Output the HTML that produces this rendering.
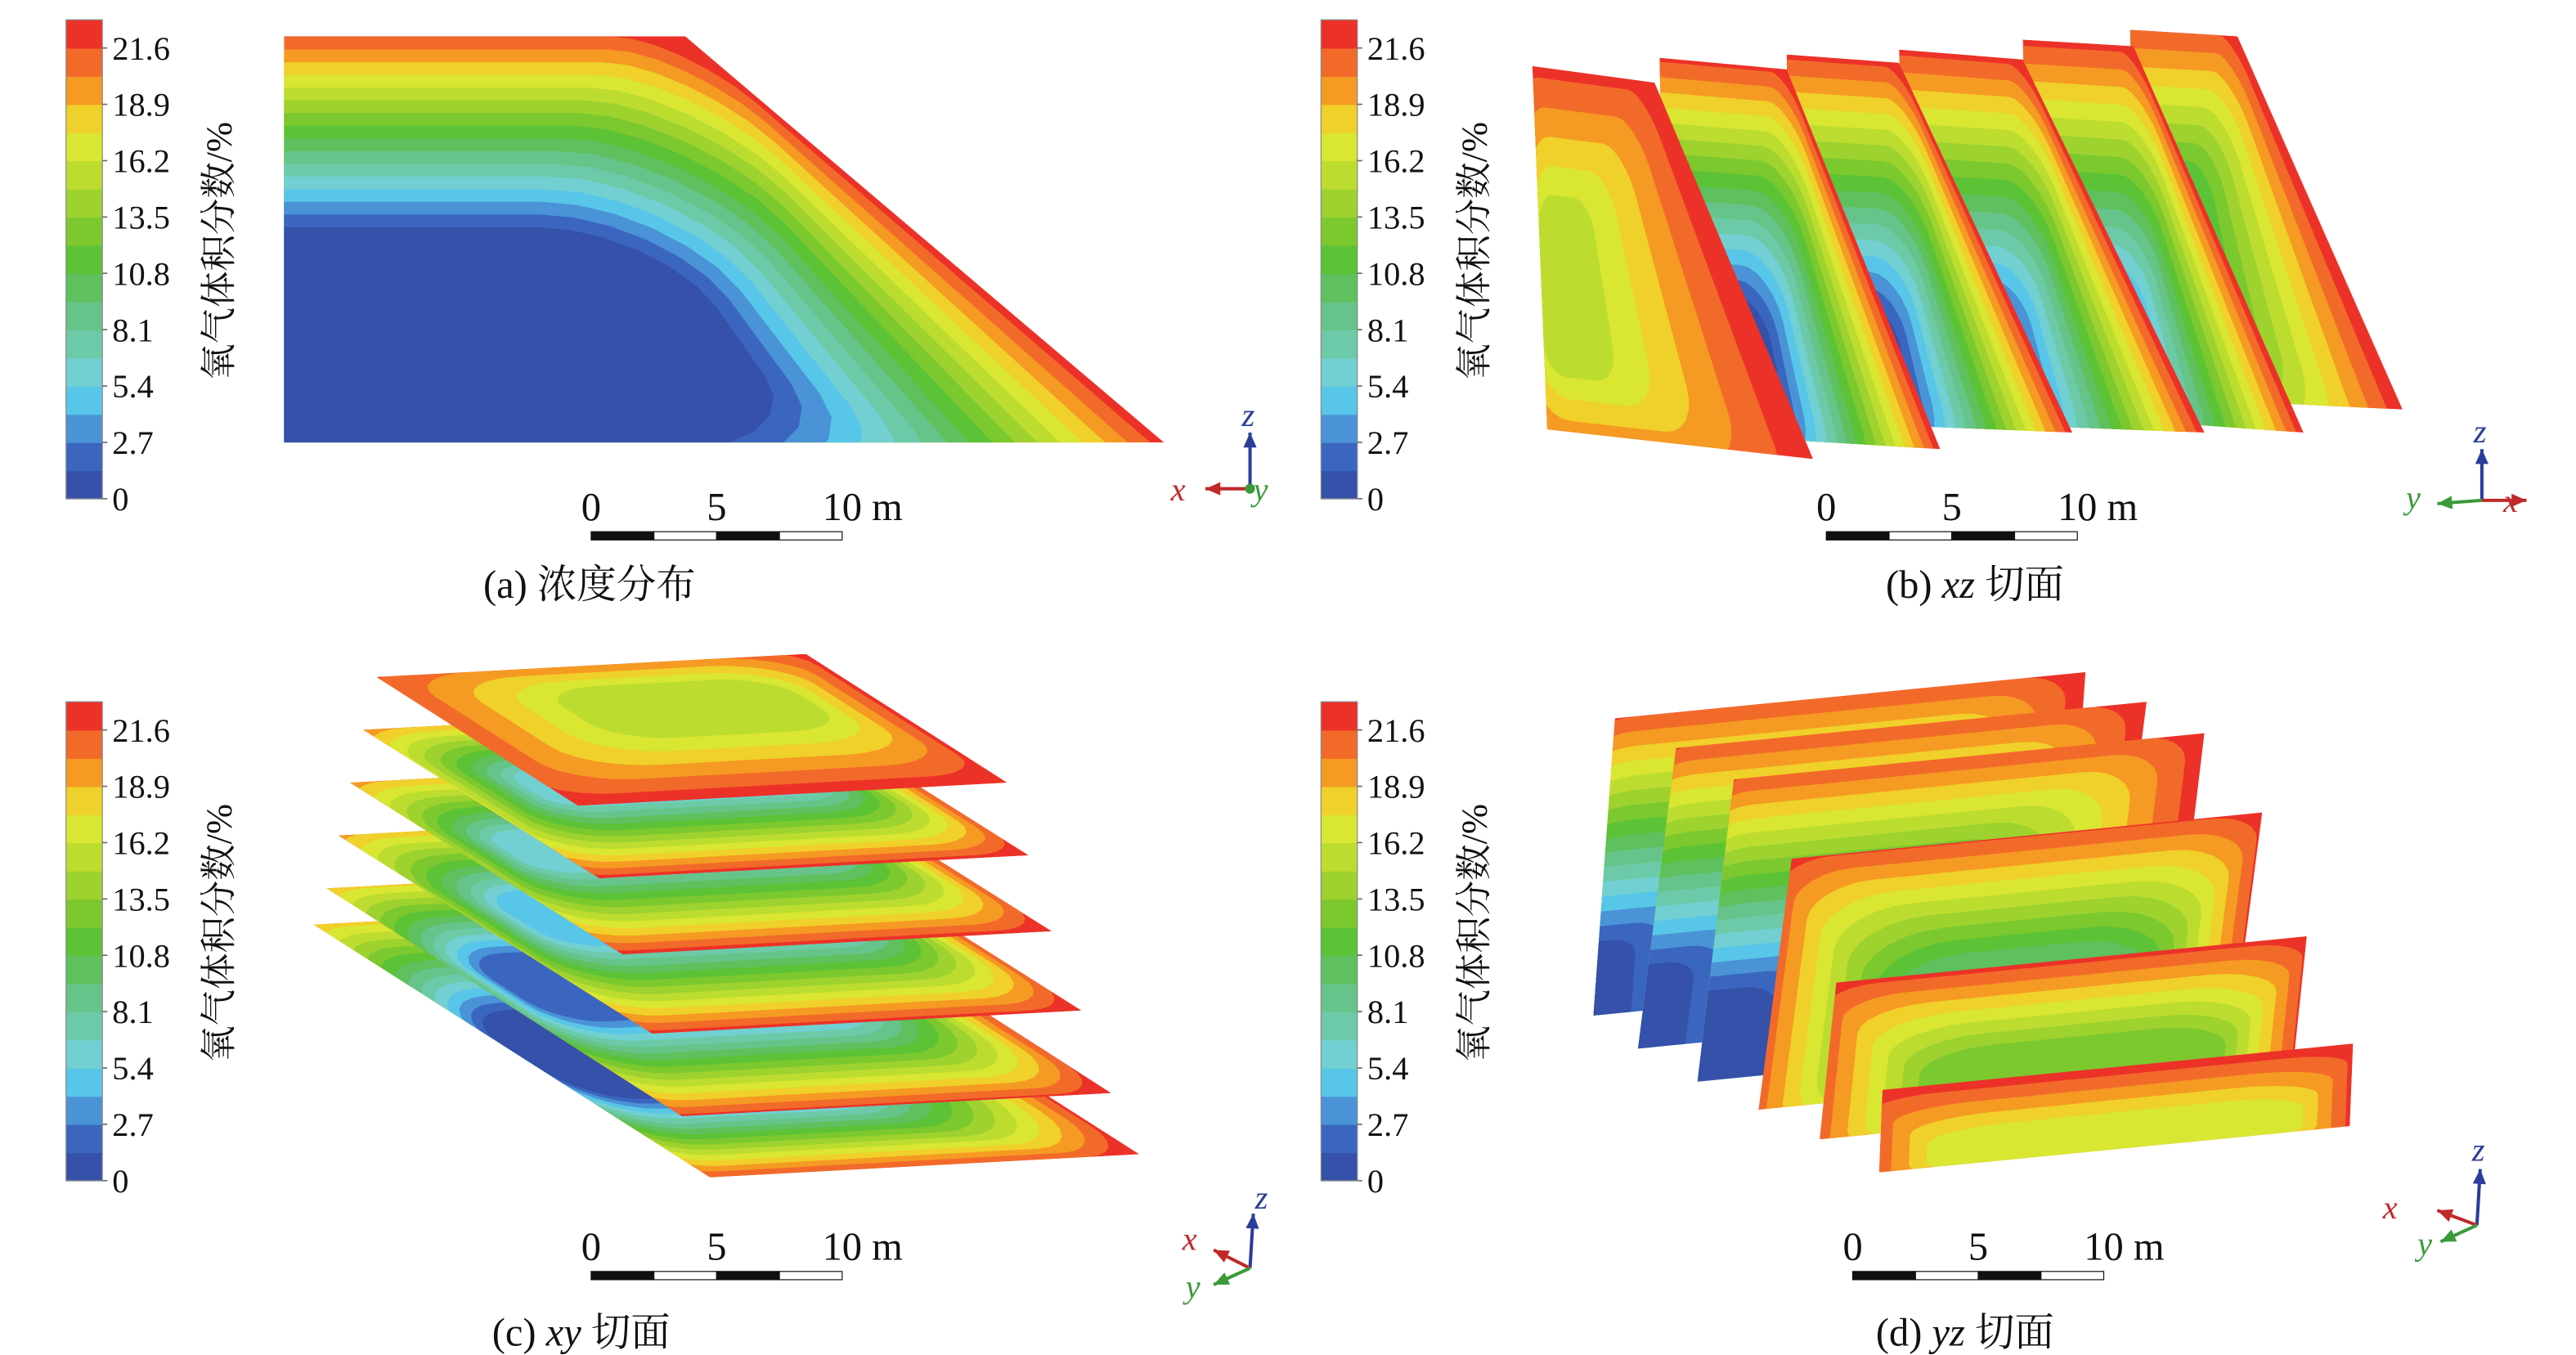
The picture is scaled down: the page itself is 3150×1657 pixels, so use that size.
<!DOCTYPE html>
<html><head><meta charset="utf-8"><style>
html,body{margin:0;padding:0;background:#fff;}
svg{display:block;}
text{font-family:"Liberation Serif","Noto Serif CJK SC",serif;fill:#111;}
</style></head><body>
<svg id="fig" width="3150" height="1657" viewBox="0 0 1560 820.6" preserveAspectRatio="none" xmlns="http://www.w3.org/2000/svg">
<defs></defs>
<g id="root"></g>
</svg>
<script>
const palette=["#3551a9","#3a66bf","#4a93d6","#58c6e8","#72d0d2","#6ccaa8","#66c48a","#5fc05e","#5cc236","#7cc82f","#9dd22f","#bcdd30","#d9e632","#f0d02a","#f59a22","#f26a2a","#ec3228"];
const tickLabels=["0","2.7","5.4","8.1","10.8","13.5","16.2","18.9","21.6"];
const tickValues=[0,2.7,5.4,8.1,10.8,13.5,16.2,18.9,21.6];
const vmax=22.95;
const colorbarOrigins=[[40,12],[800,12],[40,425],[800,425]];
const NS="http://www.w3.org/2000/svg";
const root=document.getElementById('root');
const defs=document.querySelector('defs');
function el(tag,attrs,parent){const e=document.createElementNS(NS,tag);for(const k in attrs)e.setAttribute(k,attrs[k]);(parent||root).appendChild(e);return e;}

colorbarOrigins.forEach((o,ci)=>{
  const g=el('g',{});
  
  
  const x=o[0],top=o[1],bot=o[1]+290,h=(bot-top)/palette.length;
  palette.forEach((c,i)=>{
    const r=el('rect',{x:x,y:bot-(i+1)*h,width:22,height:h+0.4,fill:c},g);
    
    
  });
  el('rect',{x:x,y:top,width:22,height:290,fill:'none',stroke:'#888','stroke-width':0.6},g);
  tickValues.forEach((v,i)=>{
    const y=bot-v/vmax*(bot-top);
    el('line',{x1:x+22,x2:x+25,y1:y,y2:y,stroke:'#666','stroke-width':0.8},g);
    const t=el('text',{x:x+28,y:y+7,'font-size':20},g);
    t.textContent=tickLabels[i];
    
    
  });
  const tt=el('text',{x:0,y:0,'font-size':22,transform:`translate(${x+100},${top+140}) rotate(-90)`,'text-anchor':'middle'},g);
  tt.textContent='氧气体积分数/%';
  
  
});

function bil(q,u,v){const [A,B,C,D]=q;
  const tx=A[0]+(B[0]-A[0])*u, ty=A[1]+(B[1]-A[1])*u;
  const bx=D[0]+(C[0]-D[0])*u, by=D[1]+(C[1]-D[1])*u;
  return [tx+(bx-tx)*v, ty+(by-ty)*v];}
function roundBox(b,rf,t){const [x0,y0,x1,y1]=b;const r=Math.max(0.001,rf*(0.25+0.75*t)*Math.min(x1-x0,y1-y0));const pts=[];
  const corners=[[x1-r,y0+r,-Math.PI/2],[x1-r,y1-r,0],[x0+r,y1-r,Math.PI/2],[x0+r,y0+r,Math.PI]];
  corners.forEach(c=>{for(let k=0;k<=6;k++){const a=c[2]+k/6*Math.PI/2;pts.push([c[0]+r*Math.cos(a),c[1]+r*Math.sin(a)]);}});
  return pts;}
let clipId=0;
function slab(name,q,start,core,outer,inner,rf){
  const g=el('g',{});
  
  
  const id='clip'+(clipId++);
  const cp=el('clipPath',{id:id},defs);
  const poly=q.map(p=>p.join(',')).join(' ');
  el('polygon',{points:poly},cp);
  const gg=el('g',{'clip-path':`url(#${id})`},g);
  el('polygon',{points:poly,fill:palette[outer]},gg);
  const n=outer-inner;
  for(let i=1;i<=n;i++){
    const t=i/n;
    const b=start.map((s,k)=>s+(core[k]-s)*t);
    const pts=roundBox(b,rf,t).map(p=>bil(q,p[0],p[1]));
    const p=el('polygon',{points:pts.map(p=>p[0].toFixed(1)+','+p[1].toFixed(1)).join(' '),fill:palette[outer-i]},gg);
    
    
  }
  return g;
}

slab('contour-panel-a',[[172,22],[415,22],[705,268],[172,268]],[-0.6,-0.03,1.01,1.6],[-0.6,0.47,0.6,1.03],16,0,0.35);

slab('xz-slice-6',[[1290,18],[1355,22],[1455,248],[1295,240]],[-0.2,-0.05,1.01,1.3],[0.1,0.35,0.45,0.9],16,8,0.3);
slab('xz-slice-5',[[1225,24],[1292,28],[1395,262],[1230,250]],[-0.5,-0.03,1.01,1.3],[-0.5,0.72,0.42,1.0],16,0,0.3);
slab('xz-slice-4',[[1150,30],[1225,36],[1335,262],[1160,255]],[-0.5,-0.03,1.01,1.3],[-0.5,0.7,0.42,1.02],16,0,0.3);
slab('xz-slice-3',[[1082,33],[1150,38],[1255,262],[1085,255]],[-0.5,-0.03,1.01,1.3],[-0.5,0.67,0.45,1.05],16,0,0.3);
slab('xz-slice-2',[[1005,35],[1082,42],[1175,272],[1010,262]],[-0.5,-0.03,1.01,1.3],[-0.5,0.62,0.45,1.05],16,0,0.3);
slab('xz-slice-1',[[928,40],[1002,50],[1098,278],[937,260]],[-0.1,-0.05,1.01,1.15],[0.0,0.35,0.3,0.85],16,11,0.3);

const cLeft=[[190,560],[198,538],[205,506],[212,474],[220,442],[228,410]];
const cSide=[[240,153],[215,138],[190,120],[165,104],[143,90],[122,78]];
const cCore=[[0,0.35,0.55,0.7],[0.05,0.3,0.7,0.6],[0.1,0.3,0.8,0.58],[0.1,0.3,0.8,0.55],[0.15,0.3,0.8,0.55],[0.3,0.15,0.85,0.55]];
const cInner=[0,1,3,4,4,11];
cLeft.forEach((L,i)=>{
  const U=[260,-14],S=cSide[i];
  const q=[L,[L[0]+U[0],L[1]+U[1]],[L[0]+U[0]+S[0],L[1]+U[1]+S[1]],[L[0]+S[0],L[1]+S[1]]];
  slab('xy-slice-'+(6-i),q,[-0.1,-0.1,1.02,1.02],cCore[i],16,cInner[i],0.35);
});

const dTL=[[978,435],[1015,453],[1050,472],[1085,520],[1112,595],[1140,660]];
const dBL=[[965,615],[992,635],[1028,655],[1065,672],[1102,690],[1138,710]];
const dInner=[0,0,0,7,9,12];
const dCore=[[-0.1,0.75,0.08,1.2],[-0.1,0.72,0.1,1.2],[-0.1,0.7,0.15,1.2],[0.25,0.45,0.8,0.95],[0.2,0.5,0.85,1.0],[0.1,0.55,0.9,1.1]];
dTL.forEach((T,i)=>{
  const U=[285,-28],B=dBL[i];
  const q=[T,[T[0]+U[0],T[1]+U[1]],[B[0]+U[0],B[1]+U[1]],B];
  slab('yz-slice-'+(i+1),q,[-0.05,-0.05,1.02,1.2],dCore[i],16,dInner[i],0.3);
});

const scaleBars=[[358,322],[1106,322],[358,770],[1122,770]];
scaleBars.forEach((s,i)=>{
  const g=el('g',{});
  
  
  const [x,y]=s;
  for(let k=0;k<4;k++){el('rect',{x:x+k*38,y:y,width:38,height:5,fill:k%2?'#fff':'#111',stroke:'#111','stroke-width':0.6},g);}
  [['0',x],['5',x+76],['10 m',x+140]].forEach((l,j)=>{const t=el('text',{x:l[1],y:y-7,'font-size':24,'text-anchor':j==2?'start':'middle'},g);t.textContent=l[0];});
});

const captions=[[357,362,'(a) 浓度分布',''],[1196,362,'(b) ','xz'],[352,815,'(c) ','xy'],[1190,815,'(d) ','yz']];
captions.forEach((c,i)=>{
  const t=el('text',{x:c[0],y:c[1],'font-size':24,'text-anchor':'middle'});
  
  
  if(c[3]){t.appendChild(document.createTextNode(c[2]));const s=el('tspan',{'font-style':'italic'},t);s.textContent=c[3];t.appendChild(document.createTextNode(' 切面'));}
  else t.textContent=c[2];
});

function arrow(g,x1,y1,x2,y2,col){el('line',{x1,y1,x2,y2,stroke:col,'stroke-width':2},g);
  const a=Math.atan2(y2-y1,x2-x1),L=9,W=4;
  const p=[[x2,y2],[x2-L*Math.cos(a)+W*Math.sin(a),y2-L*Math.sin(a)-W*Math.cos(a)],[x2-L*Math.cos(a)-W*Math.sin(a),y2-L*Math.sin(a)+W*Math.cos(a)]];
  el('polygon',{points:p.map(q=>q.join(',')).join(' '),fill:col},g);}
function lab(g,x,y,s,col){const t=el('text',{x,y,'font-size':20,'font-style':'italic',fill:col},g);t.style.fill=col;t.textContent=s;}
function triad(name,build){const g=el('g',{});build(g);}
triad('axis-triad-a',g=>{arrow(g,757,296,757,262,'#2a3d9a');arrow(g,757,296,730,296,'#c0282a');el('circle',{cx:757,cy:296,r:3,fill:'#3a9a3a'},g);lab(g,752,258,'z','#2a3d9a');lab(g,709,303,'x','#c0282a');lab(g,759,303,'y','#3a9a3a');});
triad('axis-triad-b',g=>{arrow(g,1503,303,1503,272,'#2a3d9a');arrow(g,1503,303,1530,303,'#c0282a');arrow(g,1503,303,1476,305,'#3a9a3a');lab(g,1498,268,'z','#2a3d9a');lab(g,1516,310,'x','#c0282a');lab(g,1457,308,'y','#3a9a3a');});
triad('axis-triad-c',g=>{arrow(g,757,768,759,735,'#2a3d9a');arrow(g,757,768,735,757,'#c0282a');arrow(g,757,768,735,778,'#3a9a3a');lab(g,760,732,'z','#2a3d9a');lab(g,716,757,'x','#c0282a');lab(g,718,786,'y','#3a9a3a');});
triad('axis-triad-d',g=>{arrow(g,1500,742,1502,708,'#2a3d9a');arrow(g,1500,742,1476,733,'#c0282a');arrow(g,1500,742,1478,752,'#3a9a3a');lab(g,1497,703,'z','#2a3d9a');lab(g,1443,738,'x','#c0282a');lab(g,1464,760,'y','#3a9a3a');});
</script>
</body></html>
